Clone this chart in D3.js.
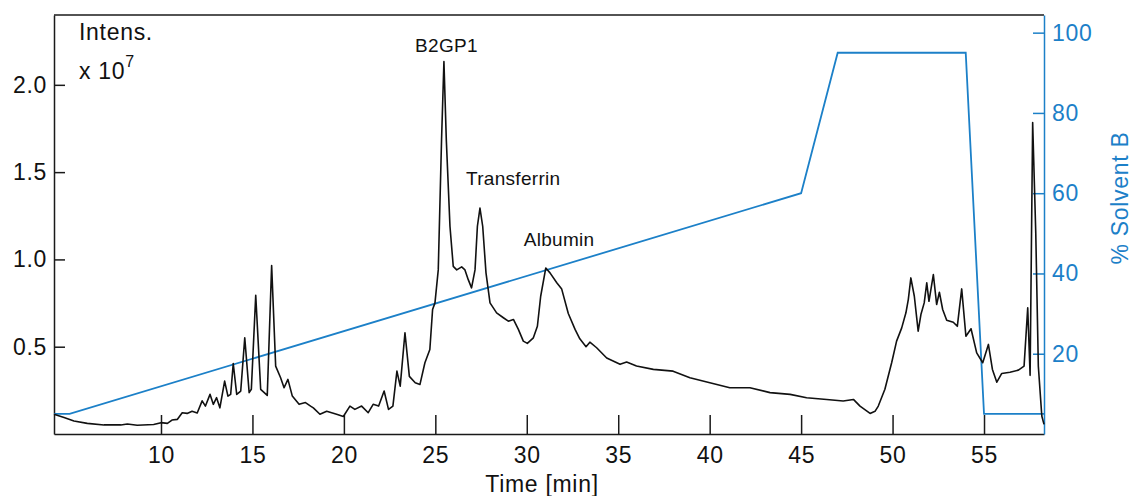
<!DOCTYPE html>
<html>
<head>
<meta charset="utf-8">
<script src="https://cdn.jsdelivr.net/npm/d3@7"></script>
<style>
  body { margin: 0; background: #fff; }
  text { font-family: 'Liberation Sans', Arial, sans-serif; }
  .big { font-size: 23px; letter-spacing: 0.7px; }
  .peak { font-size: 19px; letter-spacing: 0.3px; }
</style>
</head>
<body>
<div id="chart"></div>
<script>
// chromatogram, intensity in units of 1e7
const times = [4.15, 4.7, 5.24, 5.97, 6.88, 7.8, 8.16, 8.7, 9.6, 10.0, 10.35, 10.6, 10.9, 11.16, 11.43, 11.7, 11.98,
  12.25, 12.43, 12.68, 12.86, 13.04, 13.22, 13.48, 13.66, 13.81, 13.95, 14.14, 14.36, 14.58, 14.82, 14.94, 15.18,
  15.45, 15.81, 16.05, 16.27, 16.54, 16.73, 16.94, 17.18, 17.55, 17.9, 18.18, 18.33, 18.69, 19.06, 19.6, 19.97,
  20.33, 20.6, 20.97, 21.33, 21.6, 21.9, 22.2, 22.44, 22.68, 22.9, 23.08, 23.34, 23.58, 23.9, 24.16, 24.43, 24.7,
  24.85, 24.98, 25.16, 25.34, 25.47, 25.6, 25.8, 25.98, 26.17, 26.44, 26.62, 26.8, 26.98, 27.17, 27.3, 27.44, 27.59,
  27.77, 27.99, 28.35, 28.72, 28.99, 29.27, 29.54, 29.81, 30.03, 30.36, 30.58, 30.76, 31.04, 31.27, 31.64, 31.91,
  32.27, 32.64, 32.9, 33.24, 33.45, 33.82, 34.37, 35.1, 35.46, 36.0, 36.92, 38.0, 38.92, 40.01, 41.1, 42.2, 43.3,
  44.4, 45.3, 46.4, 47.3, 47.86, 48.22, 48.77, 49.04, 49.22, 49.58, 49.95, 50.22, 50.5, 50.73, 50.86, 51.0, 51.19,
  51.4, 51.55, 51.73, 51.87, 51.99, 52.23, 52.41, 52.56, 52.74, 52.96, 53.32, 53.54, 53.78, 54.01, 54.29, 54.6,
  54.93, 55.24, 55.46, 55.7, 55.97, 56.42, 56.88, 57.19, 57.39, 57.52, 57.66, 57.83, 57.97, 58.16, 58.28];
const intens = [0.113, 0.094, 0.074, 0.061, 0.052, 0.052, 0.057, 0.050, 0.054, 0.065, 0.061, 0.080, 0.084, 0.122, 0.118, 0.130, 0.120,
  0.190, 0.160, 0.227, 0.170, 0.208, 0.150, 0.303, 0.217, 0.227, 0.404, 0.227, 0.246, 0.551, 0.237, 0.256, 0.795,
  0.256, 0.221, 0.965, 0.389, 0.322, 0.265, 0.313, 0.217, 0.170, 0.180, 0.160, 0.150, 0.113, 0.130, 0.113, 0.100,
  0.160, 0.141, 0.160, 0.122, 0.170, 0.160, 0.246, 0.141, 0.160, 0.360, 0.274, 0.580, 0.330, 0.294, 0.284, 0.408, 0.484,
  0.713, 0.751, 0.940, 1.685, 2.133, 1.685, 1.190, 0.960, 0.940, 0.957, 0.940, 0.884, 0.837, 0.940, 1.190, 1.294, 1.190,
  0.923, 0.751, 0.694, 0.666, 0.646, 0.656, 0.599, 0.532, 0.519, 0.551, 0.617, 0.789, 0.951, 0.923, 0.866, 0.830,
  0.690, 0.599, 0.545, 0.500, 0.526, 0.494, 0.435, 0.399, 0.412, 0.389, 0.370, 0.360, 0.322, 0.294, 0.265, 0.265, 0.237,
  0.227, 0.208, 0.198, 0.189, 0.198, 0.160, 0.118, 0.130, 0.160, 0.256, 0.408, 0.532, 0.608, 0.694, 0.770, 0.894, 0.789,
  0.589, 0.684, 0.751, 0.866, 0.760, 0.913, 0.742, 0.812, 0.713, 0.652, 0.640, 0.617, 0.831, 0.560, 0.603, 0.465,
  0.408, 0.513, 0.370, 0.297, 0.347, 0.354, 0.366, 0.389, 0.723, 0.336, 1.784, 1.150, 0.389, 0.103, 0.055];

// solvent gradient
const gradTimes = [4.15, 5, 45, 47, 54, 55, 58.28];
const gradPct = [5, 5, 60, 95, 95, 5, 5];

const xTicks = [10, 15, 20, 25, 30, 35, 40, 45, 50, 55];
const yTicks = [0.5, 1.0, 1.5, 2.0];
const y2Ticks = [20, 40, 60, 80, 100];

const peakLabels = ["B2GP1", "Transferrin", "Albumin"];
const peakTimes = [25.5, 27.4, 31.0];
const peakHeights = [2.133, 1.294, 0.951];

// label offsets from the peak apex, in px
var labelOffset = [[2, -10], [34, -23], [14, -22]];

var width = 1132, height = 496;
var margin = {top: 15, right: 88, bottom: 62, left: 54};
var blue = "#1c80c8";
var dark = "#1a1a1a";

var svg = d3.select("#chart").append("svg").attr("width", width).attr("height", height);

var x = d3.scaleLinear().domain([4.15, 58.28]).range([margin.left, width - margin.right]);
var y = d3.scaleLinear().domain([0, 2.4]).range([height - margin.bottom, margin.top]);
var y2 = d3.scaleLinear().domain([0, 104.4]).range([height - margin.bottom, margin.top]);

// top frame line
svg.append("line")
    .attr("x1", margin.left).attr("x2", width - margin.right)
    .attr("y1", margin.top).attr("y2", margin.top)
    .attr("stroke", dark).attr("stroke-width", 1.5);

// x axis, ticks pointing inward
var xAxis = svg.append("g")
    .attr("transform", `translate(0,${height - margin.bottom})`)
    .call(d3.axisBottom(x).tickValues(xTicks).tickSizeInner(-19).tickSizeOuter(0).tickPadding(13));
xAxis.selectAll("path, line").attr("stroke", dark).attr("stroke-width", 1.5);
xAxis.selectAll("text").attr("class", "big").attr("fill", "#111");

// left axis
var yAxis = svg.append("g")
    .attr("transform", `translate(${margin.left},0)`)
    .call(d3.axisLeft(y).tickValues(yTicks).tickFormat(d3.format(".1f")).tickSizeInner(-11).tickSizeOuter(0).tickPadding(7));
yAxis.selectAll("path, line").attr("stroke", dark).attr("stroke-width", 1.5);
yAxis.selectAll("text").attr("class", "big").attr("fill", "#111");

// right axis (solvent)
var y2Axis = svg.append("g")
    .attr("transform", `translate(${width - margin.right},0)`)
    .call(d3.axisRight(y2).tickValues(y2Ticks).tickSizeInner(-11).tickSizeOuter(0).tickPadding(8));
y2Axis.selectAll("path, line").attr("stroke", blue).attr("stroke-width", 1.5);
y2Axis.selectAll("text").attr("class", "big").attr("fill", blue);

[xAxis, yAxis, y2Axis].forEach(g => g.attr("font-size", null).attr("font-family", null));

// gradient line
var gradLine = d3.line().x(d => x(d[0])).y(d => y2(d[1]));
svg.append("path")
    .datum(gradTimes.map((t, i) => [t, gradPct[i]]))
    .attr("d", gradLine)
    .attr("fill", "none").attr("stroke", blue).attr("stroke-width", 1.8);

// chromatogram
var line = d3.line().x(d => x(d[0])).y(d => y(d[1]));
svg.append("path")
    .datum(times.map((t, i) => [t, intens[i]]))
    .attr("d", line)
    .attr("fill", "none").attr("stroke", "#111").attr("stroke-width", 1.6)
    .attr("stroke-linejoin", "round");

// peak labels
peakLabels.forEach((lab, i) => {
    svg.append("text")
        .attr("class", "peak")
        .attr("x", x(peakTimes[i]) + labelOffset[i][0])
        .attr("y", y(peakHeights[i]) + labelOffset[i][1])
        .attr("text-anchor", "middle")
        .attr("fill", "#111")
        .text(lab);
});

// axis titles
svg.append("text").attr("class", "big").attr("x", 79).attr("y", 40).attr("fill", "#111").text("Intens.");
var exp = svg.append("text").attr("class", "big").attr("x", 79).attr("y", 79).attr("fill", "#111");
exp.append("tspan").text("x 10");
exp.append("tspan").attr("dy", -12).attr("font-size", 16).text("7");

svg.append("text")
    .attr("class", "big")
    .attr("x", (margin.left + width - margin.right) / 2 - 7)
    .attr("y", 492)
    .attr("text-anchor", "middle").attr("fill", "#111")
    .text("Time [min]");

svg.append("text")
    .attr("class", "big")
    .attr("transform", "translate(1120,198) rotate(-90)")
    .attr("text-anchor", "middle").attr("dy", "0.35em")
    .attr("fill", blue)
    .text("% Solvent B");
</script>
</body>
</html>
